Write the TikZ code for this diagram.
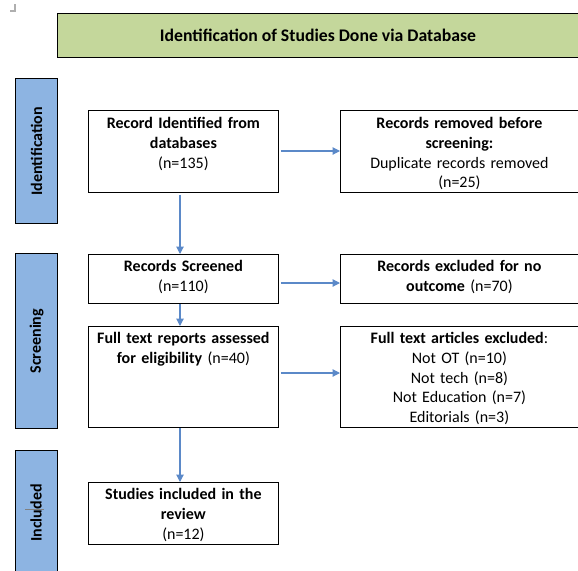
\documentclass[tikz,border=0pt]{standalone}
\usepackage{fontspec}
\setmainfont{Carlito}
\usetikzlibrary{arrows.meta}
\definecolor{hdrgreen}{RGB}{196,215,155}
\definecolor{barblue}{RGB}{141,180,226}
\definecolor{arrblue}{RGB}{91,137,200}
\definecolor{markgray}{RGB}{175,175,175}
\tikzset{
  box/.style={draw=black, line width=0.8pt, fill=white, inner sep=0pt, anchor=north west},
  bar/.style={draw=black, line width=1.3pt, fill=barblue, inner sep=0pt, anchor=north west},
  hdr/.style={draw=black, line width=1.3pt, fill=hdrgreen, inner sep=0pt, anchor=north west},
  txt/.style={anchor=north, inner sep=0pt, align=center, font=\fontsize{16}{19.6}\selectfont},
  bartxt/.style={rotate=90, font=\fontsize{16}{18}\selectfont\bfseries, inner sep=0pt},
  arr/.style={draw=arrblue, line width=1.1pt, -{Triangle[length=7.5pt,width=7.5pt]}}
}
\begin{document}
\begin{tikzpicture}[x=1pt,y=-1pt]
\useasboundingbox (0,0) rectangle (578,570);
% corner mark
\draw[markgray, line width=1.4pt] (15,4) -- (15,11) -- (10,11);
% header
\node[hdr, minimum width=523pt, minimum height=44pt] (hdr) at (57,13) {};
\node[font=\fontsize{17.7}{20}\selectfont\bfseries, inner sep=0pt] (hdrt) at (318,35.5) {Identification of Studies Done via Database};
% side bars
\node[bar, minimum width=42pt, minimum height=145pt] (bid) at (15,78) {};
\node[bartxt] (bidt) at (bid.center) {Identification};
\node[bar, minimum width=42pt, minimum height=175pt] (bsc) at (15,253) {};
\node[bartxt] (bsct) at (bsc.center) {Screening};
\node[bar, minimum width=42pt, minimum height=130pt] (bin) at (15,450) {};
\node[bartxt] (bint) at (36,513) {Included};
\draw[gray, line width=0.8pt] (25,509) coordinate (cA) -- (44,509) coordinate (cB);
% boxes
\node[box, minimum width=190pt, minimum height=82pt] (b1) at (88,110) {};
\node[txt, text width=186pt] (t1) at ([yshift=-7.5pt]b1.north) {\textbf{Record Identified from}\\\textbf{databases}\\(n=135)};
\node[box, minimum width=238pt, minimum height=82pt] (b2) at (340,110) {};
\node[txt, text width=234pt] (t2) at ([yshift=-7.5pt]b2.north) {\textbf{Records removed before}\\\textbf{screening:}\\Duplicate records removed\\(n=25)};
\node[box, minimum width=190pt, minimum height=49pt] (b3) at (88,254) {};
\node[txt, text width=186pt] (t3) at ([yshift=-6.5pt]b3.north) {\textbf{Records Screened}\\(n=110)};
\node[box, minimum width=238pt, minimum height=49pt] (b4) at (340,254) {};
\node[txt, text width=234pt] (t4) at ([yshift=-6.5pt]b4.north) {\textbf{Records excluded for no}\\\textbf{outcome} (n=70)};
\node[box, minimum width=190pt, minimum height=101pt] (b5) at (88,326) {};
\node[txt, text width=186pt] (t5) at ([yshift=-6.5pt]b5.north) {\textbf{Full text reports assessed}\\\textbf{for eligibility} (n=40)};
\node[box, minimum width=238pt, minimum height=101pt] (b6) at (340,326) {};
\node[txt, text width=234pt] (t6) at ([yshift=-6.5pt]b6.north) {\textbf{Full text articles excluded}:\\Not OT (n=10)\\Not tech (n=8)\\Not Education (n=7)\\Editorials (n=3)};
\node[box, minimum width=190pt, minimum height=62pt] (b7) at (88,482) {};
\node[txt, text width=186pt] (t7) at ([yshift=-6.5pt]b7.north) {\textbf{Studies included in the}\\\textbf{review}\\(n=12)};
% arrows
\draw[arr] ([xshift=2pt]b1.east |- 0,151) coordinate (a1s) -- (b2.west |- a1s);
\draw[arr] ([yshift=-2pt]b1.south -| 180,0) coordinate (a2s) -- (a2s |- b3.north);
\draw[arr] ([xshift=2pt]b3.east |- 0,283) coordinate (a3s) -- (b4.west |- a3s);
\draw[arr] (b3.south -| 180,0) coordinate (a4s) -- (a4s |- b5.north);
\draw[arr] ([xshift=2pt]b5.east |- 0,373) coordinate (a5s) -- (b6.west |- a5s);
\draw[arr] (b5.south -| 180,0) coordinate (a6s) -- (a6s |- b7.north);
\end{tikzpicture}
\end{document}
